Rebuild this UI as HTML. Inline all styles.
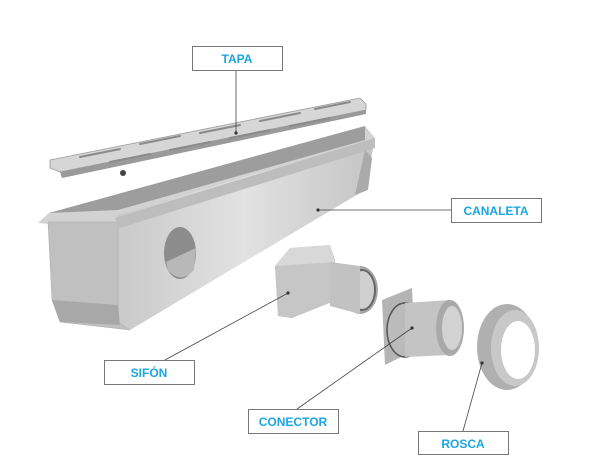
<!DOCTYPE html>
<html><head><style>
html,body{margin:0;padding:0;background:#fff;width:600px;height:470px;overflow:hidden}
svg{display:block}
text{font-family:"Liberation Sans",sans-serif;font-weight:bold;font-size:12px;fill:#1aa6e0}
</style></head><body>
<svg width="600" height="470" viewBox="0 0 600 470">
<defs>
<linearGradient id="g1" x1="0" y1="0" x2="0" y2="1"><stop offset="0" stop-color="#dcdcdc"/><stop offset="1" stop-color="#b8b8b8"/></linearGradient>
<linearGradient id="g2" x1="0" y1="0" x2="1" y2="0"><stop offset="0" stop-color="#c8c8c8"/><stop offset="0.5" stop-color="#e2e2e2"/><stop offset="1" stop-color="#c4c4c4"/></linearGradient>
</defs>
<!-- lid -->
<polygon points="50,160 360,98 366,104 366,110 60,172 50,168" fill="#d6d6d6" stroke="#999" stroke-width="0.8"/>
<polygon points="60,172 366,110 366,114 62,178" fill="#9a9a9a"/>
<g stroke="#8a8a8a" stroke-width="2" stroke-linecap="round">
<line x1="80" y1="157" x2="120" y2="149"/><line x1="110" y1="162" x2="150" y2="154"/>
<line x1="140" y1="144" x2="180" y2="136"/><line x1="170" y1="150" x2="210" y2="142"/>
<line x1="200" y1="133" x2="240" y2="125"/><line x1="230" y1="138" x2="270" y2="130"/>
<line x1="260" y1="121" x2="300" y2="113"/><line x1="290" y1="126" x2="330" y2="118"/>
<line x1="315" y1="109" x2="350" y2="102"/>
</g>
<circle cx="123" cy="173" r="3" fill="#444"/>
<!-- channel -->
<polygon points="38,223 49,213 365,126 375,138 125,215 118,230" fill="#d2d2d2"/>
<polygon points="49,213 365,126 365,140 118,210" fill="#9d9d9d"/>
<polygon points="118,215 375,138 365,190 130,330 112,322" fill="url(#g2)"/>
<polygon points="48,222 118,222 118,322 130,330 60,322 52,300" fill="#c0c0c0" stroke="#aaa" stroke-width="0.5"/>
<polygon points="52,300 118,305 120,325 60,322" fill="#a8a8a8"/>
<polygon points="115,218 375,138 375,148 120,228" fill="#bdbdbd"/>
<ellipse cx="180" cy="253" rx="16" ry="26" fill="#8c8c8c"/>
<path d="M166,262 L196,248 L194,270 Q180,285 168,270 Z" fill="#b8b8b8"/>
<polygon points="365,150 372,158 368,190 355,195" fill="#aaa"/>
<!-- sifon -->
<polygon points="275,266 290,248 330,245 335,260 332,300 292,318 278,316" fill="#bcbcbc"/>
<polygon points="275,266 330,260 332,302 292,318 278,316" fill="#c6c6c6"/>
<polygon points="290,248 330,245 335,262 275,266" fill="#d8d8d8"/>
<ellipse cx="360" cy="290" rx="18" ry="24" fill="#a6a6a6"/>
<ellipse cx="362" cy="290" rx="13" ry="20" fill="#cfcfcf" stroke="#666" stroke-width="2"/>
<polygon points="330,262 360,266 360,314 330,306" fill="#c2c2c2"/>
<!-- conector -->
<polygon points="382,300 412,288 415,350 385,365" fill="#b4b4b4"/>
<ellipse cx="405" cy="330" rx="18" ry="27" fill="#bbb" stroke="#555" stroke-width="1.5"/>
<polygon points="405,303 450,300 450,355 405,357" fill="#c4c4c4"/>
<ellipse cx="450" cy="328" rx="14" ry="28" fill="#a9a9a9"/>
<ellipse cx="452" cy="328" rx="10" ry="22" fill="#d3d3d3"/>
<!-- rosca -->
<ellipse cx="507" cy="347" rx="30" ry="43" fill="#b0b0b0"/>
<ellipse cx="515" cy="348" rx="24" ry="38" fill="#c8c8c8"/>
<ellipse cx="518" cy="350" rx="17" ry="29" fill="#fff"/>
<!-- leaders -->
<g stroke="#444" stroke-width="0.8" fill="none">
<line x1="236" y1="70" x2="236" y2="133"/>
<line x1="318" y1="210" x2="451" y2="210"/>
<line x1="288" y1="293" x2="165" y2="360"/>
<line x1="412" y1="328" x2="297" y2="409"/>
<line x1="482" y1="363" x2="463" y2="431"/>
</g>
<g fill="#333"><circle cx="236" cy="133" r="1.6"/><circle cx="318" cy="210" r="1.6"/><circle cx="288" cy="293" r="1.6"/><circle cx="412" cy="328" r="1.6"/><circle cx="482" cy="363" r="1.6"/></g>
<!-- labels -->
<g fill="#fff" stroke="#777" stroke-width="1">
<rect x="192.5" y="46.5" width="90" height="24"/>
<rect x="451.5" y="198.5" width="90" height="24"/>
<rect x="104.5" y="360.5" width="90" height="24"/>
<rect x="248.5" y="409.5" width="90" height="24"/>
<rect x="418.5" y="431.5" width="90" height="23"/>
</g>
<text x="237" y="63" text-anchor="middle">TAPA</text>
<text x="496" y="215" text-anchor="middle">CANALETA</text>
<text x="149" y="377" text-anchor="middle">SIFÓN</text>
<text x="293" y="426" text-anchor="middle">CONECTOR</text>
<text x="463" y="448" text-anchor="middle">ROSCA</text>
</svg>
</body></html>
